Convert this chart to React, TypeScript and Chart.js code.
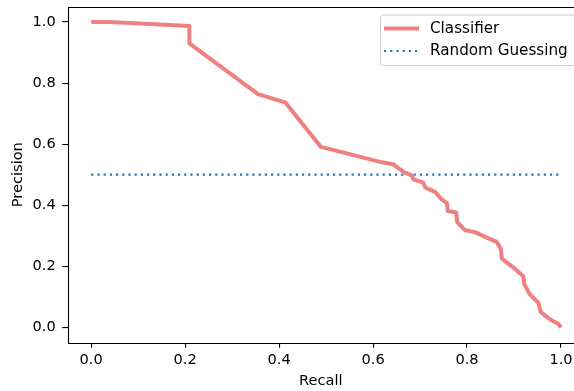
import React, { useEffect, useRef } from "react";
import { Chart, registerables } from "chart.js";

Chart.register(...registerables);

const recall = [0, 0.04, 0.209, 0.209, 0.355, 0.413, 0.489, 0.615, 0.643, 0.665, 0.682, 0.686, 0.707, 0.711, 0.732, 0.746, 0.757, 0.759, 0.777, 0.779, 0.796, 0.817, 0.842, 0.863, 0.872, 0.874, 0.899, 0.92, 0.922, 0.934, 0.952, 0.957, 0.977, 0.994, 1.0];
const precision = [1.0, 1.0, 0.987, 0.93, 0.764, 0.737, 0.591, 0.542, 0.534, 0.509, 0.498, 0.485, 0.474, 0.458, 0.444, 0.419, 0.408, 0.381, 0.376, 0.345, 0.318, 0.312, 0.294, 0.28, 0.258, 0.225, 0.196, 0.167, 0.141, 0.108, 0.08, 0.05, 0.026, 0.012, 0.0];
const randomX = [0, 1];
const randomY = [0.5, 0.5];
const tickValues = [0, 0.2, 0.4, 0.6, 0.8, 1.0];
const seriesNames = ["Classifier", "Random Guessing"];
const axisTitles = { x: "Recall", y: "Precision" };

const FONT = "DejaVu Sans";
const FS = 14.6;
const LFS = 15.2;

const framePlugin = {
  id: "frameAndLegend",
  afterDraw(chart: any) {
    const { ctx, chartArea } = chart;
    const { left, top, right, bottom } = chartArea;
    ctx.save();
    ctx.strokeStyle = "#000";
    ctx.lineWidth = 1.1;
    ctx.beginPath();
    ctx.moveTo(right + 5, Math.round(top) + 0.5);
    ctx.lineTo(Math.round(left) + 0.5, Math.round(top) + 0.5);
    ctx.lineTo(Math.round(left) + 0.5, Math.round(bottom) + 0.5);
    ctx.lineTo(right + 5, Math.round(bottom) + 0.5);
    ctx.stroke();
    // legend
    const bx = 380.5, by = 15, bw = 200, bh = 50.5;
    ctx.fillStyle = "rgba(255,255,255,0.8)";
    ctx.strokeStyle = "#cccccc";
    ctx.lineWidth = 1;
    ctx.beginPath();
    (ctx as any).roundRect(bx, by, bw, bh, 3);
    ctx.fill();
    ctx.stroke();
    const ds = chart.data.datasets;
    const rows = [28.5, 51];
    ds.forEach((d: any, i: number) => {
      ctx.beginPath();
      ctx.strokeStyle = d.borderColor;
      ctx.lineWidth = d.borderWidth;
      ctx.setLineDash(d.borderDash || []);
      ctx.lineCap = "butt";
      ctx.moveTo(384, rows[i]);
      ctx.lineTo(419, rows[i]);
      ctx.stroke();
      ctx.setLineDash([]);
      ctx.fillStyle = "#000";
      ctx.font = `${LFS}px "${FONT}"`;
      ctx.textBaseline = "middle";
      ctx.textAlign = "left";
      ctx.fillText(d.label, 430, rows[i] + 0.5);
    });
    ctx.restore();
  },
};

export default function App() {
  const ref = useRef<HTMLCanvasElement>(null);
  useEffect(() => {
    if (!ref.current) return;
    const setTicks = (scale: any) => {
      scale.ticks = tickValues.map((v) => ({ value: v }));
    };
    const noPad = (s: any) => {
      s.paddingLeft = 0; s.paddingRight = 0; s.paddingTop = 0; s.paddingBottom = 0;
    };
    const chart = new Chart(ref.current, {
      type: "line",
      data: {
        datasets: [
          {
            label: seriesNames[0],
            data: recall.map((x, i) => ({ x, y: precision[i] })),
            borderColor: "#f08080",
            borderWidth: 4,
            pointRadius: 0,
            tension: 0,
            fill: false,
            borderJoinStyle: "round",
          } as any,
          {
            label: seriesNames[1],
            data: randomX.map((x, i) => ({ x, y: randomY[i] })),
            borderColor: "#1f77b4",
            borderWidth: 2.2,
            borderDash: [2.2, 4],
            borderCapStyle: "butt",
            pointRadius: 0,
            fill: false,
          } as any,
        ],
      },
      options: {
        animation: false,
        responsive: false,
        maintainAspectRatio: false,
        layout: { padding: { top: 6.7, right: 0, left: 0, bottom: 0 } },
        plugins: { legend: { display: false }, tooltip: { enabled: false } },
        scales: {
          x: {
            type: "linear",
            min: -0.05,
            max: 1.0277,
            afterBuildTicks: setTicks,
            afterFit: (s: any) => { s.height = 48.3; noPad(s); },
            border: { display: false },
            grid: { drawOnChartArea: false, drawTicks: true, tickLength: 5, color: "#000", lineWidth: 1.1 },
            ticks: { color: "#000", font: { family: FONT, size: FS }, padding: 4, maxRotation: 0, callback: (v: any) => Number(v).toFixed(1) },
            title: { display: true, text: axisTitles.x, color: "#000", font: { family: FONT, size: FS }, padding: { top: 0, bottom: 1 } },
          },
          y: {
            type: "linear",
            min: -0.05,
            max: 1.05,
            afterBuildTicks: setTicks,
            afterFit: (s: any) => { s.width = 67.7; noPad(s); },
            border: { display: false },
            grid: { drawOnChartArea: false, drawTicks: true, tickLength: 5.5, color: "#000", lineWidth: 1.1 },
            ticks: { color: "#000", font: { family: FONT, size: FS }, padding: 6.5, callback: (v: any) => Number(v).toFixed(1) },
            title: { display: true, text: axisTitles.y, color: "#000", font: { family: FONT, size: FS }, padding: { top: 9, bottom: 0 } },
          },
        },
      },
      plugins: [framePlugin],
    });
    return () => chart.destroy();
  }, []);
  return (
    <div style={{ position: "absolute", left: 0, top: 0, width: 574, height: 391, overflow: "hidden", background: "#fff" }}>
      <canvas ref={ref} width={574} height={391} style={{ width: 574, height: 391, display: "block" }} />
    </div>
  );
}
